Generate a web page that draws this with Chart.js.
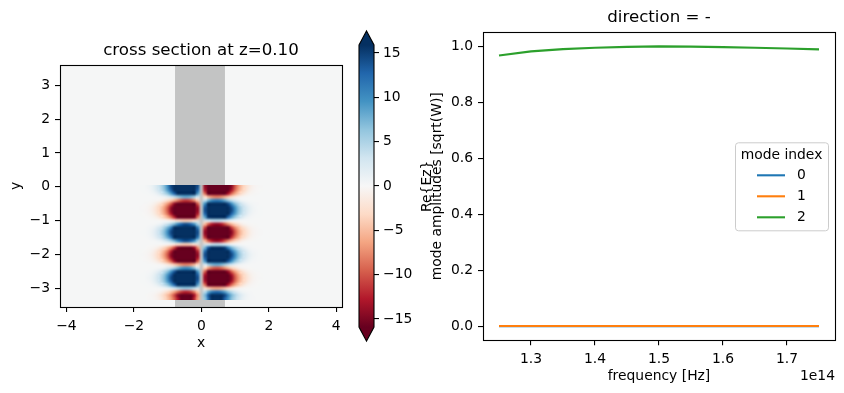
<!DOCTYPE html>
<html>
<head>
<meta charset="utf-8">
<script src="https://cdn.jsdelivr.net/npm/chart.js@4.4.1/dist/chart.umd.min.js"></script>
<style>
  html, body { margin: 0; padding: 0; background: #fff; }
  #wrap { position: relative; width: 844px; height: 393px; overflow: hidden; }
  canvas { position: absolute; top: 0; }
</style>
</head>
<body>
<div id="wrap">
  <canvas id="field" width="420" height="393" style="left:0px"></canvas>
  <canvas id="cbar" width="80" height="393" style="left:340px"></canvas>
  <canvas id="modes" width="424" height="393" style="left:420px"></canvas>
</div>
<script>
// ---- left panel: Re{Ez} cross section ----
const fieldX = [-2.0, -1.9, -1.8, -1.7, -1.6, -1.5, -1.4, -1.3, -1.2, -1.1, -1.0, -0.9, -0.8, -0.7, -0.6, -0.5, -0.4, -0.3, -0.2, -0.1,
  0.0, 0.1, 0.2, 0.3, 0.4, 0.5, 0.6, 0.7, 0.8, 0.9, 1.0, 1.1, 1.2, 1.3, 1.4, 1.5, 1.6, 1.7, 1.8, 1.9, 2.0];
// field profile across x (left lobe positive, right lobe negative)
const fieldXProfile = [0.004, 0.006, 0.009, 0.014, 0.022, 0.033, 0.05, 0.075, 0.11, 0.17, 0.25, 0.36, 0.52, 0.72, 0.9, 1.0, 0.99, 0.88, 0.65, 0.35,
  0.0, -0.35, -0.65, -0.88, -0.99, -1.0, -0.9, -0.72, -0.52, -0.36, -0.25, -0.17, -0.11, -0.075, -0.05, -0.033, -0.022, -0.014, -0.009, -0.006, -0.004];
const fieldY = [0.0, -0.1, -0.2, -0.3, -0.4, -0.5, -0.6, -0.7, -0.8, -0.9, -1.0, -1.1, -1.2, -1.3, -1.4, -1.5, -1.6,
  -1.7, -1.8, -1.9, -2.0, -2.1, -2.2, -2.3, -2.4, -2.5, -2.6, -2.7, -2.8, -2.9, -3.0, -3.1, -3.2, -3.3];
// standing wave along y
const fieldYProfile = [1.0, 0.9, 0.62, 0.2, -0.28, -0.68, -0.95, -1.0, -0.88, -0.58, -0.1, 0.35, 0.75, 0.98, 0.98, 0.78, 0.35,
  -0.1, -0.52, -0.85, -1.0, -0.92, -0.65, -0.2, 0.25, 0.65, 0.92, 1.0, 0.9, 0.6, 0.15, -0.3, -0.5, -0.45];
const fieldPeak = 40;
const slabX = [-0.78, 0.70];
const fieldXTicks = [-4, -2, 0, 2, 4];
const fieldYTicks = [-3, -2, -1, 0, 1, 2, 3];
const cbarTicks = [-15, -10, -5, 0, 5, 10, 15];
const cbarRange = [-15.9, 15.9];

// ---- right panel: mode amplitudes ----
const freqs = [1.25e14, 1.30e14, 1.35e14, 1.40e14, 1.45e14, 1.50e14, 1.55e14, 1.60e14, 1.65e14, 1.70e14, 1.75e14];
const mode0 = [0.0005, 0.0005, 0.0005, 0.0005, 0.0005, 0.0005, 0.0005, 0.0005, 0.0005, 0.0005, 0.0005];
const mode1 = [0.001, 0.001, 0.001, 0.001, 0.001, 0.001, 0.001, 0.001, 0.001, 0.001, 0.001];
const mode2 = [0.969, 0.984, 0.992, 0.997, 1.000, 1.002, 1.001, 0.999, 0.997, 0.994, 0.991];
const modeLabels = ['0', '1', '2'];
const freqTicks = [1.3e14, 1.4e14, 1.5e14, 1.6e14, 1.7e14];
const ampTicks = [0.0, 0.2, 0.4, 0.6, 0.8, 1.0];

const FONT = 'DejaVu Sans';
const FS = 13.89;
Chart.defaults.font.family = FONT;
Chart.defaults.font.size = FS;
Chart.defaults.color = '#000';
Chart.defaults.animation = false;

// RdBu colour map
const rdbu = ['#67001f', '#b2182b', '#d6604d', '#f4a582', '#fddbc7', '#f7f7f7', '#d1e5f0', '#92c5de', '#4393c3', '#2166ac', '#053061'];
function hexRgb(h) { return [1, 3, 5].map(i => parseInt(h.substr(i, 2), 16)); }
function cmap(t) {
  t = Math.min(1, Math.max(0, t)) * 10;
  const i = Math.min(9, Math.floor(t)), f = t - i;
  const a = hexRgb(rdbu[i]), b = hexRgb(rdbu[i + 1]);
  return a.map((c, k) => Math.round(c + (b[k] - c) * f));
}
const minus = v => String(v).replace('-', '\u2212');

function boxPlugin(id) {
  return {
    id: id,
    afterDraw(chart) {
      const { ctx, chartArea: a } = chart;
      ctx.save();
      ctx.strokeStyle = '#000';
      ctx.lineWidth = 1.1;
      ctx.strokeRect(Math.round(a.left) + 0.5, Math.round(a.top) + 0.5,
        Math.round(a.right) - Math.round(a.left), Math.round(a.bottom) - Math.round(a.top));
      ctx.restore();
    }
  };
}

const fieldPlugin = {
  id: 'fieldMap',
  beforeDatasetsDraw(chart) {
    const { ctx, chartArea: a, scales: { x, y } } = chart;
    ctx.save();
    ctx.beginPath();
    ctx.rect(a.left, a.top, a.width, a.height);
    ctx.clip();
    ctx.fillStyle = '#f5f6f6';
    ctx.fillRect(a.left, a.top, a.width, a.height);
    const s0 = x.getPixelForValue(slabX[0]), s1 = x.getPixelForValue(slabX[1]);
    ctx.fillStyle = '#c3c4c4';
    ctx.fillRect(s0, a.top, s1 - s0, a.height);

    const nx = fieldX.length, ny = fieldY.length;
    const off = document.createElement('canvas');
    off.width = nx; off.height = ny;
    const octx = off.getContext('2d');
    const img = octx.createImageData(nx, ny);
    for (let j = 0; j < ny; j++) {
      for (let i = 0; i < nx; i++) {
        const v = fieldPeak * fieldXProfile[i] * fieldYProfile[j];
        const c = cmap((v - cbarRange[0]) / (cbarRange[1] - cbarRange[0]));
        const k = (j * nx + i) * 4;
        img.data[k] = c[0]; img.data[k + 1] = c[1]; img.data[k + 2] = c[2];
        img.data[k + 3] = Math.round(255 * Math.min(1, Math.abs(v) / 2.5));
      }
    }
    octx.putImageData(img, 0, 0);
    const dx = (fieldX[1] - fieldX[0]) / 2, dy = Math.abs(fieldY[1] - fieldY[0]) / 2;
    const l = x.getPixelForValue(fieldX[0] - dx), r = x.getPixelForValue(fieldX[nx - 1] + dx);
    const t = y.getPixelForValue(fieldY[0] + dy), b = y.getPixelForValue(fieldY[ny - 1] - dy);
    ctx.imageSmoothingEnabled = true;
    ctx.imageSmoothingQuality = 'high';
    ctx.drawImage(off, l, t, r - l, b - t);
    ctx.restore();
  }
};

function axis(opts) {
  return Object.assign({
    type: 'linear',
    border: { display: false },
    grid: { drawOnChartArea: false, drawTicks: true, tickLength: 5, color: '#000', tickColor: '#000', lineWidth: 1.1 },
  }, opts);
}

new Chart(document.getElementById('field'), {
  type: 'scatter',
  data: { datasets: [] },
  options: {
    responsive: false,
    devicePixelRatio: 1,
    layout: { padding: { left: 0, right: 78, top: 0, bottom: 36 } },
    plugins: {
      legend: { display: false },
      tooltip: { enabled: false },
      title: { display: true, fullSize: false, text: 'cross section at z=0.10', font: { size: 16.67, weight: 'normal', lineHeight: 1.2 }, padding: { top: 41, bottom: 4 }, color: '#000' }
    },
    scales: {
      x: axis({
        min: -4.19, max: 4.17,
        afterBuildTicks: s => { s.ticks = fieldXTicks.map(v => ({ value: v })); },
        afterFit: s => { s.height = 50; },
        ticks: { autoSkip: false, maxRotation: 0, padding: 6, callback: v => minus(v) },
        title: { display: true, text: 'x', padding: { top: 2, bottom: 5.5 } }
      }),
      y: axis({
        min: -3.55, max: 3.6,
        afterBuildTicks: s => { s.ticks = fieldYTicks.map(v => ({ value: v })); },
        afterFit: s => { s.width = 60; },
        ticks: { autoSkip: false, padding: 5, callback: v => minus(v) },
        title: { display: true, text: 'y', padding: { top: 8.5, bottom: 0 } }
      })
    }
  },
  plugins: [fieldPlugin, boxPlugin('fieldBox')]
});

// colour bar
const cbarPlugin = {
  id: 'cbarFill',
  beforeDatasetsDraw(chart) {
    const { ctx, chartArea: a, scales: { y } } = chart;
    const top = y.getPixelForValue(cbarRange[1]), bot = y.getPixelForValue(cbarRange[0]);
    const ext = (bot - top) * 0.05;
    const g = ctx.createLinearGradient(0, bot, 0, top);
    rdbu.forEach((c, i) => g.addColorStop(i / 10, c));
    ctx.save();
    ctx.fillStyle = g;
    ctx.fillRect(a.left, top, a.width, bot - top);
    const cx = (a.left + a.right) / 2;
    ctx.fillStyle = rdbu[10];
    ctx.beginPath(); ctx.moveTo(a.left, top); ctx.lineTo(cx, top - ext); ctx.lineTo(a.right, top); ctx.closePath(); ctx.fill();
    ctx.fillStyle = rdbu[0];
    ctx.beginPath(); ctx.moveTo(a.left, bot); ctx.lineTo(cx, bot + ext); ctx.lineTo(a.right, bot); ctx.closePath(); ctx.fill();
    ctx.strokeStyle = '#000';
    ctx.lineWidth = 1.1;
    ctx.beginPath();
    ctx.moveTo(a.left, top); ctx.lineTo(cx, top - ext); ctx.lineTo(a.right, top);
    ctx.lineTo(a.right, bot); ctx.lineTo(cx, bot + ext); ctx.lineTo(a.left, bot);
    ctx.closePath(); ctx.stroke();
    ctx.restore();
  }
};

new Chart(document.getElementById('cbar'), {
  type: 'scatter',
  data: { datasets: [] },
  options: {
    responsive: false,
    devicePixelRatio: 1,
    layout: { padding: { left: 19, right: 0, top: 45, bottom: 66 } },
    plugins: { legend: { display: false }, tooltip: { enabled: false } },
    scales: {
      x: { type: 'linear', display: false, min: 0, max: 1 },
      y: axis({
        position: 'right',
        min: cbarRange[0], max: cbarRange[1],
        afterBuildTicks: s => { s.ticks = cbarTicks.map(v => ({ value: v })); },
        afterFit: s => { s.width = 46; },
        ticks: { autoSkip: false, padding: 4, callback: v => minus(v) }
      })
    }
  },
  plugins: [cbarPlugin]
});

// legend drawn like matplotlib's, from the datasets
const modeLegend = {
  id: 'modeLegend',
  afterDraw(chart) {
    const { ctx, chartArea: a } = chart;
    const w = 93, h = 88;
    const right = a.right - 7, left = right - w;
    const top = (a.top + a.bottom) / 2 - h / 2;
    ctx.save();
    ctx.fillStyle = 'rgba(255,255,255,0.8)';
    ctx.strokeStyle = '#cccccc';
    ctx.lineWidth = 1;
    ctx.beginPath();
    ctx.roundRect(left + 0.5, top + 0.5, w, h, 3);
    ctx.fill(); ctx.stroke();
    ctx.fillStyle = '#000';
    ctx.font = FS + 'px "' + FONT + '"';
    ctx.textAlign = 'center';
    ctx.textBaseline = 'middle';
    ctx.fillText('mode index', left + w / 2, top + 13);
    ctx.textAlign = 'left';
    chart.data.datasets.forEach((ds, i) => {
      const yy = top + 33 + i * 21;
      ctx.strokeStyle = ds.borderColor;
      ctx.lineWidth = 2.1;
      ctx.beginPath(); ctx.moveTo(left + 22, yy); ctx.lineTo(left + 50, yy); ctx.stroke();
      ctx.fillText(ds.label, left + 62, yy);
    });
    // axis offset text
    ctx.textAlign = 'right';
    ctx.fillText('1e14', a.right, a.bottom + 36);
    ctx.restore();
  }
};

new Chart(document.getElementById('modes'), {
  type: 'line',
  data: {
    datasets: [
      { label: modeLabels[0], data: freqs.map((f, i) => ({ x: f, y: mode0[i] })), borderColor: '#1f77b4', order: 3 },
      { label: modeLabels[1], data: freqs.map((f, i) => ({ x: f, y: mode1[i] })), borderColor: '#ff7f0e', order: 2 },
      { label: modeLabels[2], data: freqs.map((f, i) => ({ x: f, y: mode2[i] })), borderColor: '#2ca02c', order: 1 }
    ]
  },
  options: {
    responsive: false,
    devicePixelRatio: 1,
    elements: { point: { radius: 0 }, line: { borderWidth: 2.1, tension: 0, borderCapStyle: 'butt' } },
    layout: { padding: { left: 0, right: 9, top: 0, bottom: 0 } },
    plugins: {
      legend: { display: false },
      tooltip: { enabled: false },
      title: { display: true, fullSize: false, text: 'direction = -', font: { size: 16.67, weight: 'normal', lineHeight: 1.2 }, padding: { top: 7.7, bottom: 4.6 }, color: '#000' }
    },
    scales: {
      x: axis({
        min: 1.225e14, max: 1.775e14,
        afterBuildTicks: s => { s.ticks = freqTicks.map(v => ({ value: v })); },
        afterFit: s => { s.height = 52.7; },
        ticks: { autoSkip: false, maxRotation: 0, padding: 6, callback: v => (v / 1e14).toFixed(1) },
        title: { display: true, text: 'frequency [Hz]', padding: { top: 2, bottom: 8.5 } }
      }),
      y: axis({
        min: -0.0502, max: 1.0522,
        afterBuildTicks: s => { s.ticks = ampTicks.map(v => ({ value: v })); },
        afterFit: s => { s.width = 63; },
        ticks: { autoSkip: false, padding: 5, callback: v => v.toFixed(1) },
        title: { display: true, text: ['Re{Ez}', 'mode amplitudes [sqrt(W)]'], font: { lineHeight: 0.72 }, padding: { top: 2, bottom: 0 } }
      })
    }
  },
  plugins: [modeLegend, boxPlugin('modesBox')]
});
</script>
</body>
</html>
